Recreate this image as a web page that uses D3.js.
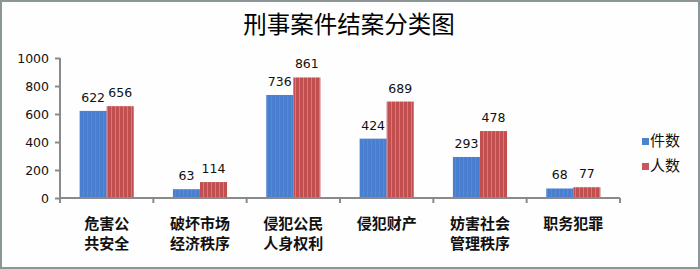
<!DOCTYPE html>
<html>
<head>
<meta charset="utf-8">
<script src="https://cdn.jsdelivr.net/npm/d3@7"></script>
<style>
  body { margin: 0; background: #fff; }
  svg { display: block; }
</style>
</head>
<body>
<svg id="chart" width="700" height="269"></svg>
<script>
// data
var categories = [["危害公", "共安全"], ["破坏市场", "经济秩序"], ["侵犯公民", "人身权利"], ["侵犯财产"], ["妨害社会", "管理秩序"], ["职务犯罪"]]
var seriesNames = ["件数", "人数"]
var caseCounts = [622, 63, 736, 424, 293, 68]
var personCounts = [656, 114, 861, 689, 478, 77]
var yTicks = [0, 200, 400, 600, 800, 1000]

var svg = d3.select("#chart")
var W = 700, H = 269
// plot box (note: "top" is a window global, so use other names)
var plotLeft = 60, plotRight = 620, plotTop = 58, plotBottom = 198

// outer border
svg.append("rect").attr("x", 1).attr("y", 1).attr("width", W - 2).attr("height", H - 2)
    .attr("fill", "#fefefe").attr("stroke", "#8c9696").attr("stroke-width", 2)

// stripe patterns like the picture
var defs = svg.append("defs")
function stripe(id, base, light) {
    var p = defs.append("pattern").attr("id", id).attr("patternUnits", "userSpaceOnUse")
        .attr("width", 4).attr("height", 4)
    p.append("rect").attr("width", 4).attr("height", 4).attr("fill", base)
    p.append("rect").attr("x", 3).attr("width", 1).attr("height", 4).attr("fill", light)
}
stripe("blueStripe", "#4a7fcf", "#3b9ac4")
stripe("redStripe", "#c24f50", "#d9787a")
var fills = ["url(#blueStripe)", "url(#redStripe)"]
var legendFills = ["#4a85cc", "#c9575a"]

var idx = d3.range(categories.length)
var x = d3.scaleBand().domain(idx).range([plotLeft, plotRight]).paddingInner(0.42).paddingOuter(0.21)
var x1 = d3.scaleBand().domain([0, 1]).range([0, x.bandwidth()])
var y = d3.scaleLinear().domain([0, 1000]).range([plotBottom, plotTop])

// title
svg.append("text").attr("x", 349).attr("y", 33).attr("text-anchor", "middle")
    .style("font-family", "'Noto Sans CJK SC'").style("font-size", "23.5px").attr("fill", "#000")
    .text("刑事案件结案分类图")

// bars
var series = [caseCounts, personCounts]
series.forEach(function(vals, s) {
    svg.append("g").selectAll("rect").data(vals).enter().append("rect")
        .attr("x", function(d, i) { return x(i) + x1(s) })
        .attr("y", function(d) { return y(d) })
        .attr("width", x1.bandwidth())
        .attr("height", function(d) { return y(0) - y(d) })
        .attr("fill", fills[s])

    svg.append("g").selectAll("text").data(vals).enter().append("text")
        .attr("x", function(d, i) { return x(i) + x1(s) + x1.bandwidth() / 2 })
        .attr("y", function(d) { return y(d) - 9 })
        .attr("text-anchor", "middle")
        .style("font-family", "'DejaVu Sans'").style("font-size", "12.5px").attr("fill", "#111")
        .text(function(d) { return d })
})

// y axis
var yAxis = svg.append("g").attr("transform", "translate(" + plotLeft + ",0)")
    .call(d3.axisLeft(y).tickValues(yTicks).tickFormat(d3.format("d")).tickSize(5).tickPadding(6))
yAxis.selectAll("text").style("font-family", "'DejaVu Sans'").style("font-size", "12.5px").attr("fill", "#111")
yAxis.selectAll("line").attr("stroke", "#8a8a8a").attr("stroke-width", 2)
yAxis.select(".domain").attr("stroke", "#8a8a8a").attr("stroke-width", 2).attr("d", "M0," + plotTop + "V" + plotBottom)

// x axis with ticks between categories
var xBound = d3.scaleLinear().domain([0, categories.length]).range([plotLeft, plotRight])
var xg = svg.append("g")
xg.append("line").attr("x1", plotLeft).attr("x2", plotRight).attr("y1", plotBottom).attr("y2", plotBottom)
    .attr("stroke", "#8a8a8a").attr("stroke-width", 2)
xg.selectAll("line.tick").data(d3.range(categories.length + 1)).enter().append("line").attr("class", "tick")
    .attr("x1", function(d) { return xBound(d) }).attr("x2", function(d) { return xBound(d) })
    .attr("y1", plotBottom).attr("y2", plotBottom + 5).attr("stroke", "#8a8a8a").attr("stroke-width", 2)

var labels = xg.selectAll("text").data(categories).enter().append("text")
    .attr("text-anchor", "middle")
    .style("font-family", "'Noto Sans CJK SC'").style("font-size", "15px").style("font-weight", "bold").attr("fill", "#111")
labels.each(function(d, i) {
    var t = d3.select(this)
    d.forEach(function(line, j) {
        t.append("tspan").attr("x", x(i) + x.bandwidth() / 2).attr("y", 229 + j * 20).text(line)
    })
})

// legend
var lg = svg.append("g").selectAll("g").data(seriesNames).enter().append("g")
    .attr("transform", function(d, i) { return "translate(642," + (138 + i * 25) + ")" })
lg.append("rect").attr("width", 7).attr("height", 7).attr("fill", function(d, i) { return legendFills[i] })
lg.append("text").attr("x", 8).attr("y", 8)
    .style("font-family", "'Noto Sans CJK SC'").style("font-size", "15px").attr("fill", "#111")
    .text(function(d) { return d })
</script>
</body>
</html>
